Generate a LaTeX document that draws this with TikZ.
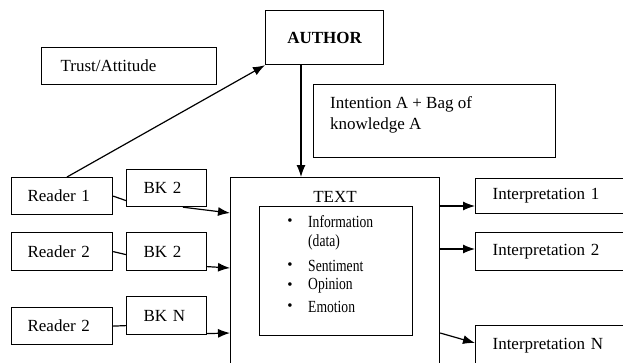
\documentclass[tikz,border=0pt]{standalone}
\usepackage{fontspec}
\setmainfont{Liberation Serif}
\usetikzlibrary{arrows.meta}
\tikzset{
  bx/.style={draw, line width=1.2pt, rectangle, inner ysep=0pt, anchor=north west, align=left},
  arr/.style={line width=1.2pt, -{Latex[length=12pt,width=9pt]}},
  ln/.style={line width=1.2pt},
  bul/.style={inner sep=0pt, font=\fontsize{15}{15}\selectfont},
  itm/.style={inner sep=0pt, anchor=west}
}
\newcommand{\cond}[1]{\scalebox{0.8}[1]{#1}}
\begin{document}
\begin{tikzpicture}[x=1pt,y=-1pt,font=\fontsize{17}{21}\selectfont]
\useasboundingbox (0,0) rectangle (623,362);
\clip (0,0) rectangle (623,362);
% top
\node[bx, minimum width=175pt, minimum height=37pt, text width=137pt, inner xsep=19pt] (TA) at (41,47) {Trust/Attitude};
\node[bx, minimum width=118pt, minimum height=54pt, text width=118pt, inner xsep=0pt, align=center, font=\fontsize{17}{21}\selectfont\bfseries] (AU) at (265,10) {AUTHOR};
\node[bx, minimum width=242pt, minimum height=73pt, inner xsep=0pt] (INT) at (313,84) {};
\node[inner sep=0pt, anchor=north west, align=left] (INTtxt) at (330,96) {Intention A + Bag of\\knowledge A};
% readers
\node[bx, minimum width=101pt, minimum height=37pt, text width=69pt, inner xsep=16pt] (R1) at (11,177) {Reader 1};
\node[bx, minimum width=101pt, minimum height=38pt, text width=69pt, inner xsep=16pt] (R2) at (11,232) {Reader 2};
\node[bx, minimum width=101pt, minimum height=37pt, text width=69pt, inner xsep=16pt] (R3) at (11,307) {Reader 2};
% BK
\node[bx, minimum width=80pt, minimum height=37pt, text width=46pt, inner xsep=17pt] (B1) at (126,169) {BK 2};
\node[bx, minimum width=80pt, minimum height=38pt, text width=46pt, inner xsep=17pt] (B2) at (126,232) {BK 2};
\node[bx, minimum width=80pt, minimum height=38pt, text width=46pt, inner xsep=17pt] (B3) at (126,296) {BK N};
% TEXT
\node[bx, minimum width=209pt, minimum height=203pt, inner xsep=0pt] (TX) at (230,177) {};
\node[inner sep=0pt] (TXlbl) at (335,197) {TEXT};
\node[bx, minimum width=153pt, minimum height=129pt, inner xsep=0pt] (IB) at (259,206) {};
\node[bul] (u1) at (290,222) {\textbullet};
\node[itm] (t1) at (308,222) {\cond{Information}};
\node[itm] (t2) at (308,242) {\cond{(data)}};
\node[bul] (u3) at (290,266) {\textbullet};
\node[itm] (t3) at (308,266) {\cond{Sentiment}};
\node[bul] (u4) at (290,286) {\textbullet};
\node[itm] (t4) at (308,286) {\cond{Opinion}};
\node[bul] (u5) at (290,307) {\textbullet};
\node[itm] (t5) at (308,307) {\cond{Emotion}};
% interpretations
\node[bx, minimum width=170pt, minimum height=35pt, text width=136pt, inner xsep=17pt] (I1) at (475,178) {Interpretation 1};
\node[bx, minimum width=170pt, minimum height=38pt, text width=136pt, inner xsep=17pt] (I2) at (475,232) {Interpretation 2};
\node[bx, minimum width=170pt, minimum height=40pt, text width=136pt, inner xsep=17pt] (IN) at (475,325) {Interpretation N};
% connectors
\draw[arr] ([xshift=56pt]R1.north west) -- (AU.south west);
\draw[arr] ([xshift=36pt]AU.south west) -- ([xshift=36pt]AU.south west |- TX.north);
\draw[ln] (R1.east) -- ([yshift=-12.5pt]B1.west);
\draw[arr] ([xshift=57pt]B1.south west) -- ([yshift=-36pt]TX.north west);
\draw[ln] (R2.east) -- ([yshift=-3pt]B2.west);
\draw[arr] ([yshift=-15pt]B2.east) -- ([yshift=-91pt]TX.north west);
\draw[ln] (R3.east) -- ([yshift=-10pt]B3.west);
\draw[arr] ([yshift=-18pt]B3.east) -- ([yshift=-156pt]TX.north west);
\draw[arr] ([yshift=-29pt]TX.north east) -- ([yshift=-29pt]TX.north east -| I1.west);
\draw[arr] ([yshift=-72pt]TX.north east) -- ([yshift=-72pt]TX.north east -| I2.west);
\draw[arr] ([yshift=-156pt]TX.north east) -- ([yshift=-18pt]IN.north west);
\end{tikzpicture}
\end{document}
